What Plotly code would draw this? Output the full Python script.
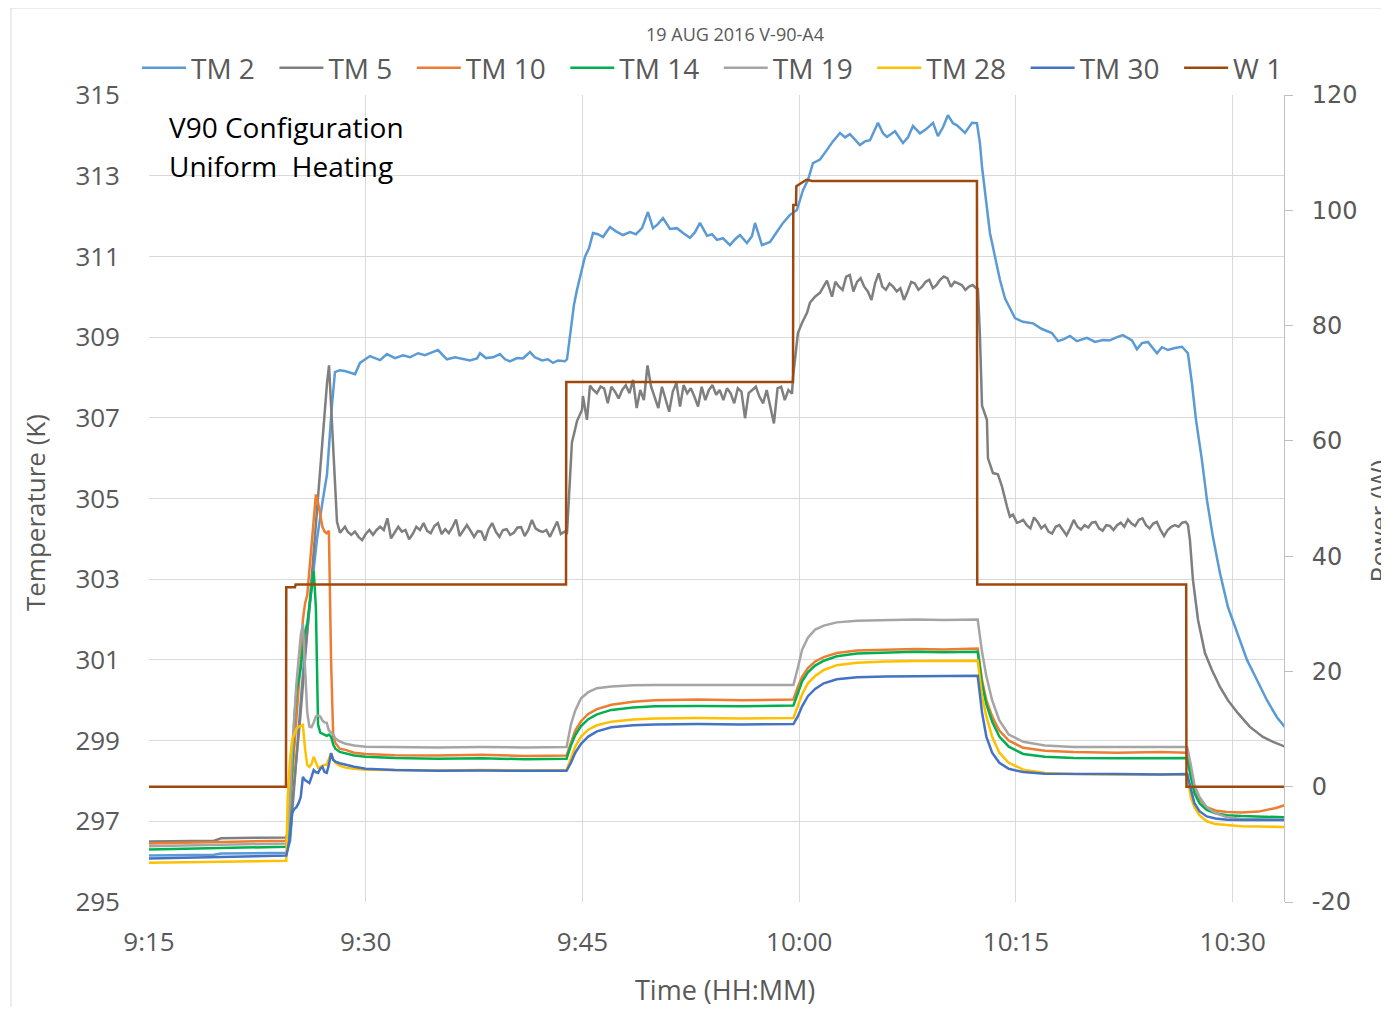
import pandas as pd
import plotly.graph_objects as go

# ---------------- data (minutes after 9:15, values) ----------------
T0 = pd.Timestamp("2016-08-19 09:15:00")
X_END_MIN = 78.55
TICK_MIN = [0, 15, 30, 45, 60, 75]
TICK_LABELS = ["9:15", "9:30", "9:45", "10:00", "10:15", "10:30"]
Y2_TICKS = [-20, 0, 20, 40, 60, 80, 100, 120]
Y2_LABELS = ["-20", "0", "20", "40", "60", "80", "100", "120"]

TM2 = [(0, 296.15), (4.5, 296.17), (5, 296.2), (9.5, 296.22), (9.76, 296.5), (10.1, 298.0), (10.66, 300.7),
       (11.2, 302.6), (11.63, 304.0), (12.0, 304.9), (12.32, 305.6), (12.66, 307.3), (12.87, 308.13),
       (13.2, 308.18), (13.56, 308.16), (14.26, 308.08), (14.6, 308.36), (15.29, 308.53), (15.99, 308.43),
       (16.47, 308.58), (17.02, 308.48), (17.58, 308.55), (18.06, 308.5), (18.62, 308.6), (19.1, 308.55),
       (19.58, 308.62), (20.0, 308.68), (20.35, 308.55), (20.62, 308.45), (21.18, 308.5), (21.73, 308.46),
       (22.21, 308.42), (22.7, 308.47), (22.91, 308.6), (23.32, 308.48), (23.81, 308.5), (24.29, 308.58),
       (24.64, 308.45), (24.98, 308.4), (25.47, 308.48), (25.88, 308.47), (26.37, 308.63), (26.71, 308.5),
       (27.2, 308.42), (27.61, 308.45), (27.96, 308.36), (28.3, 308.42), (28.79, 308.4), (28.93, 308.45),
       (29.13, 309.0), (29.41, 309.8), (29.62, 310.17), (29.9, 310.6), (30.17, 310.99), (30.45, 311.2),
       (30.73, 311.58), (31.07, 311.55), (31.42, 311.48), (31.9, 311.73), (32.32, 311.62), (32.8, 311.53),
       (33.29, 311.6), (33.7, 311.55), (34.12, 311.7), (34.53, 312.1), (34.88, 311.7), (35.22, 311.8),
       (35.57, 311.95), (36.06, 311.68), (36.54, 311.7), (36.96, 311.58), (37.44, 311.46), (37.79, 311.6),
       (38.13, 311.83), (38.62, 311.51), (38.96, 311.55), (39.31, 311.41), (39.72, 311.45), (40.21, 311.28),
       (40.55, 311.42), (40.9, 311.53), (41.38, 311.33), (41.73, 311.5), (41.94, 311.83), (42.42, 311.28),
       (42.98, 311.36), (43.46, 311.61), (43.88, 311.83), (44.36, 312.03), (44.84, 312.15), (45.26, 312.64),
       (45.61, 312.9), (45.95, 313.31), (46.44, 313.4), (46.92, 313.64), (47.33, 313.85), (47.82, 314.06),
       (48.17, 313.95), (48.51, 314.03), (48.86, 313.9), (49.2, 313.76), (49.55, 313.85), (49.9, 313.88),
       (50.45, 314.31), (50.8, 314.05), (51.07, 313.96), (51.63, 314.1), (52.18, 313.81), (52.53, 313.95),
       (52.87, 314.23), (53.36, 314.05), (53.77, 314.15), (54.26, 314.31), (54.6, 313.98), (54.95, 314.2),
       (55.29, 314.5), (55.64, 314.3), (55.92, 314.25), (56.47, 314.06), (56.96, 314.31), (57.3, 314.3),
       (57.51, 313.8), (57.65, 313.22), (58.2, 311.58), (58.89, 310.42), (59.24, 309.96), (59.58, 309.7),
       (59.93, 309.47), (60.48, 309.38), (61.18, 309.34), (61.8, 309.2), (62.49, 309.1), (62.91, 308.9),
       (63.32, 308.95), (63.74, 309.03), (64.22, 308.9), (64.91, 308.98), (65.47, 308.88), (66.02, 308.93),
       (66.5, 308.92), (66.99, 309.0), (67.4, 309.05), (68.03, 308.92), (68.37, 308.7), (68.72, 308.85),
       (69.13, 308.88), (69.76, 308.6), (70.1, 308.75), (70.52, 308.68), (71.0, 308.73), (71.49, 308.76),
       (71.9, 308.6), (72.18, 307.85), (72.46, 306.95), (72.87, 305.95), (73.22, 304.96), (73.63, 304.05),
       (74.12, 303.15), (74.67, 302.31), (75.29, 301.67), (75.99, 301.0), (76.68, 300.5), (77.37, 300.0),
       (78.06, 299.58), (78.62, 299.33)]

# TM5: transition points plus regularly sampled (0.25 min) noisy plateaus
TM5_PRE = [(0, 296.5), (4.5, 296.52), (5, 296.58), (9.5, 296.6), (9.76, 296.9), (10.45, 299.5), (11.14, 302.5),
           (11.63, 304.8), (11.97, 306.45), (12.32, 307.86), (12.46, 308.3), (12.66, 306.9), (12.87, 305.3),
           (13.01, 304.42), (13.22, 304.15), (13.56, 304.3)]
TM5_P1_START = 13.75
TM5_P1 = [304.18, 304.10, 304.18, 304.05, 303.97, 304.12, 304.22, 304.10, 304.22, 304.30, 304.22, 304.51,
          304.01, 304.14, 304.30, 304.18, 304.22, 303.99, 304.12, 304.30, 304.22, 304.39, 304.20, 304.14,
          304.32, 304.39, 304.12, 304.24, 304.14, 304.29, 304.48, 304.07, 304.22, 304.34, 304.20, 304.05,
          304.19, 304.18, 303.96, 304.24, 304.39, 304.18, 304.05, 304.22, 304.24, 304.10, 304.15, 304.28,
          304.29, 304.07, 304.22, 304.47, 304.26, 304.20, 304.17, 304.22, 304.05, 304.24, 304.43, 304.12,
          304.18]
TM5_R1 = [(28.93, 304.15), (29.13, 305.5), (29.27, 306.39), (29.48, 306.7), (29.62, 306.92), (29.97, 307.2),
          (30.03, 307.54), (30.31, 306.95), (30.52, 307.8)]
TM5_P2_START = 30.75
TM5_P2 = [307.69, 307.61, 307.77, 307.73, 307.36, 307.77, 307.65, 307.48, 307.69, 307.81, 307.61, 307.94,
          307.24, 307.69, 307.44, 308.30, 307.77, 307.52, 307.24, 307.77, 307.48, 307.15, 307.65, 307.86,
          307.28, 307.81, 307.61, 307.73, 307.52, 307.28, 307.77, 307.44, 307.69, 307.81, 307.57, 307.69,
          307.44, 307.73, 307.61, 307.36, 307.73, 307.65, 306.99, 307.61, 307.69, 307.77, 307.52, 307.36,
          307.69, 307.28, 306.86, 307.73, 307.77, 307.44, 307.69]
TM5_R2 = [(44.5, 307.6), (44.57, 308.0), (44.91, 309.1), (45.19, 309.35), (45.54, 309.6), (45.74, 309.85),
          (46.09, 310.0), (46.44, 310.1), (46.92, 310.4), (47.27, 310.0)]
TM5_P3_START = 47.5
TM5_P3 = [310.37, 310.25, 310.17, 310.50, 310.54, 310.13, 310.37, 310.46, 310.25, 310.13, 309.92, 310.33,
          310.58, 310.25, 310.17, 310.33, 310.25, 310.13, 310.21, 309.92, 310.13, 310.37, 310.33, 310.17,
          310.25, 310.37, 310.42, 310.21, 310.29, 310.42, 310.50, 310.46, 310.25, 310.37, 310.33, 310.29,
          310.17, 310.25, 310.29, 310.21]
TM5_R3 = [(57.37, 310.2), (57.51, 309.0), (57.65, 307.3), (57.99, 306.95), (58.06, 306.0), (58.41, 305.63),
          (58.75, 305.6), (59.03, 305.3), (59.38, 304.8), (59.58, 304.55), (59.79, 304.6), (60.07, 304.4)]
TM5_P4_START = 60.25
TM5_P4 = [304.42, 304.47, 304.34, 304.26, 304.53, 304.42, 304.26, 304.34, 304.18, 304.13, 304.30, 304.34,
          304.22, 304.09, 304.26, 304.47, 304.30, 304.23, 304.34, 304.28, 304.40, 304.42, 304.26, 304.20,
          304.34, 304.32, 304.22, 304.34, 304.40, 304.30, 304.48, 304.38, 304.32, 304.47, 304.51, 304.34,
          304.26, 304.38, 304.42, 304.22, 304.07, 304.22, 304.30, 304.34, 304.30, 304.40, 304.42]
TM5_R4 = [(71.9, 304.35), (72.04, 303.97), (72.25, 302.98), (72.6, 301.99), (73.08, 301.17), (73.56, 300.75),
          (74.12, 300.33), (74.67, 300.0), (75.36, 299.68), (76.19, 299.34), (77.09, 299.09), (77.79, 298.97),
          (78.62, 298.85)]
SAMPLE_STEP = 0.25

# shared time grid for the lower thermocouple group
LOW_T = [0, 3, 6, 9.5,
         9.6, 9.75, 9.9, 10.05, 10.2, 10.35, 10.5, 10.65, 10.8, 10.95, 11.1, 11.25, 11.4, 11.55, 11.7, 11.85,
         12.0, 12.15, 12.3, 12.45, 12.6, 12.75, 12.9, 13.2, 13.6, 14.2, 15,
         17, 20, 23, 26, 28.9,
         29.2, 29.5, 29.9, 30.4, 31, 32, 33.5, 35,
         38, 41, 44.6,
         44.9, 45.2, 45.6, 46.1, 46.7, 47.6, 49,
         51, 53, 55, 57.35,
         57.65, 57.95, 58.35, 58.85, 59.5, 60.5, 62,
         64, 67, 70, 71.85,
         72.1, 72.35, 72.7, 73.2, 73.8, 74.6, 75.6, 76.8, 78, 78.6]

TM10 = [296.45, 296.47, 296.5, 296.52,
        296.7, 297.3, 298.0, 298.8, 299.5, 300.3, 301.0, 301.99, 302.4, 302.6, 303.2, 304.0, 304.6, 305.1,
        304.9, 304.54, 304.3, 304.18, 304.14, 304.2, 301.0, 299.1, 298.94, 298.8, 298.77, 298.7, 298.67,
        298.64, 298.63, 298.65, 298.62, 298.63,
        298.97, 299.25, 299.48, 299.66, 299.78, 299.89, 299.96, 300.0,
        300.02, 300.0, 300.02,
        300.33, 300.58, 300.8, 300.96, 301.07, 301.17, 301.23,
        301.25, 301.27, 301.26, 301.28,
        300.5, 300.0, 299.6, 299.25, 299.0, 298.82, 298.75,
        298.72, 298.7, 298.72, 298.7,
        298.3, 297.85, 297.55, 297.35, 297.27, 297.23, 297.22, 297.24, 297.33, 297.4]

TM14 = [296.3, 296.32, 296.35, 296.37,
        296.6, 297.4, 298.3, 299.5, 300.2, 300.5, 300.8, 301.3, 301.7, 301.9, 302.3, 302.8, 303.2, 302.3,
        299.4, 299.2, 299.17, 299.14, 299.12, 299.15, 299.1, 298.9, 298.8, 298.72, 298.69, 298.63, 298.6,
        298.57, 298.55, 298.56, 298.54, 298.55,
        298.88, 299.14, 299.36, 299.53, 299.65, 299.76, 299.82, 299.85,
        299.86, 299.85, 299.87,
        300.2, 300.47, 300.69, 300.86, 300.98, 301.09, 301.16,
        301.18, 301.2, 301.19, 301.2,
        300.4, 299.9, 299.47, 299.1, 298.85, 298.67, 298.6,
        298.57, 298.56, 298.57, 298.57,
        298.1, 297.7, 297.45, 297.28, 297.2, 297.15, 297.13, 297.12, 297.11, 297.1]

TM19 = [296.38, 296.4, 296.42, 296.45,
        296.8, 297.5, 298.7, 299.6, 300.4, 301.0, 301.6, 301.9, 300.9, 299.7, 299.35, 299.33, 299.45, 299.6,
        299.62, 299.6, 299.5, 299.45, 299.44, 299.25, 299.2, 299.15, 299.05, 298.98, 298.92, 298.88, 298.85,
        298.84, 298.83, 298.84, 298.83, 298.84,
        299.4, 299.75, 300.05, 300.2, 300.3, 300.34, 300.37, 300.38,
        300.38, 300.37, 300.38,
        300.8, 301.25, 301.55, 301.75, 301.85, 301.93, 301.97,
        301.98, 302.0, 301.99, 302.0,
        301.2, 300.6, 300.0, 299.5, 299.15, 298.97, 298.88,
        298.84, 298.84, 298.85, 298.84,
        298.4, 297.9, 297.6, 297.35, 297.2, 297.1, 297.06, 297.05, 297.04, 297.04]

TM28 = [295.97, 295.99, 296.0, 296.02,
        297.6, 298.5, 299.0, 299.15, 299.3, 299.34, 299.37, 299.39, 298.8, 298.4, 298.35, 298.42, 298.6,
        298.45, 298.33, 298.35, 298.38, 298.4, 298.4, 298.55, 298.69, 298.55, 298.45, 298.38, 298.33, 298.3,
        298.28,
        298.27, 298.26, 298.27, 298.26, 298.27,
        298.55, 298.85, 299.1, 299.27, 299.38, 299.47, 299.52, 299.55,
        299.56, 299.55, 299.56,
        299.85, 300.15, 300.42, 300.6, 300.75, 300.87, 300.93,
        300.96, 300.97, 300.97, 300.98,
        300.1, 299.6, 299.1, 298.7, 298.45, 298.28, 298.2,
        298.17, 298.16, 298.17, 298.16,
        297.6, 297.35, 297.15, 297.0, 296.93, 296.9, 296.88, 296.87, 296.86, 296.86]

TM30 = [296.08, 296.1, 296.12, 296.15,
        296.3, 296.6, 297.2, 297.3, 297.35, 297.45, 297.6, 298.1, 298.02, 297.98, 297.95, 298.1, 298.27,
        298.22, 298.2, 298.3, 298.35, 298.22, 298.2, 298.4, 298.69, 298.52, 298.48, 298.44, 298.4, 298.35,
        298.3,
        298.27, 298.25, 298.26, 298.25, 298.25,
        298.45, 298.7, 298.92, 299.1, 299.23, 299.33, 299.38, 299.4,
        299.41, 299.4, 299.41,
        299.6, 299.85, 300.1, 300.28, 300.42, 300.52, 300.57,
        300.59, 300.6, 300.6, 300.61,
        299.7, 299.1, 298.7, 298.45, 298.3, 298.22, 298.18,
        298.17, 298.17, 298.16, 298.17,
        297.8, 297.45, 297.25, 297.12, 297.07, 297.04, 297.03, 297.03, 297.03, 297.03]

W1 = [(0, 0), (9.48, 0), (9.5, 34.6), (10.1, 34.6), (10.15, 35.1), (28.86, 35.1), (28.88, 70.2), (44.57, 70.2),
      (44.59, 100.9), (44.78, 100.9), (44.8, 104.2), (45.2, 104.9), (45.5, 105.3), (45.9, 105.1), (57.3, 105.1),
      (57.32, 35.1), (71.78, 35.1), (71.8, 0), (78.62, 0)]


# ---------------- helpers ----------------
def to_time(mins):
    return [T0 + pd.Timedelta(minutes=float(m)) for m in mins]


def sampled(start, vals):
    return [(start + i * SAMPLE_STEP, v) for i, v in enumerate(vals)]


tm5_pairs = (TM5_PRE + sampled(TM5_P1_START, TM5_P1) + TM5_R1 + sampled(TM5_P2_START, TM5_P2) + TM5_R2
             + sampled(TM5_P3_START, TM5_P3) + TM5_R3 + sampled(TM5_P4_START, TM5_P4) + TM5_R4)

PAD = "\u00a0\u00a0"
series = [
    ("TM 2", [p[0] for p in TM2], [p[1] for p in TM2], "#5B9BD5"),
    ("TM 5", [p[0] for p in tm5_pairs], [p[1] for p in tm5_pairs], "#7F7F7F"),
    ("TM 10", LOW_T, TM10, "#ED7D31"),
    ("TM 14", LOW_T, TM14, "#00B050"),
    ("TM 19", LOW_T, TM19, "#A5A5A5"),
    ("TM 28", LOW_T, TM28, "#FFC000"),
    ("TM 30", LOW_T, TM30, "#4472C4"),
]

FONT = "Open Sans"
GRAY = "#595959"
GRID = "#D9D9D9"

fig = go.Figure()
for name, mins, vals, col in series:
    fig.add_trace(go.Scatter(x=to_time(mins), y=vals, name=name + PAD, mode="lines",
                             line=dict(color=col, width=2.5)))
fig.add_trace(go.Scatter(x=to_time([p[0] for p in W1]), y=[p[1] for p in W1], name="W 1", mode="lines",
                         line=dict(color="#9E480E", width=2.5), yaxis="y2"))

fig.update_layout(
    width=1373, height=999,
    margin=dict(l=141, r=97, t=87, b=105),
    paper_bgcolor="white", plot_bgcolor="white",
    font=dict(family=FONT, color=GRAY),
    showlegend=True,
    legend=dict(orientation="h", x=-0.0106, xanchor="left", y=1.0335, yanchor="middle",
                font=dict(size=28, color=GRAY, family=FONT), itemwidth=44,
                bgcolor="rgba(0,0,0,0)", tracegroupgap=0),
    xaxis=dict(type="date", range=to_time([0, X_END_MIN]), tickvals=to_time(TICK_MIN), ticktext=TICK_LABELS,
               showgrid=True, gridcolor=GRID, gridwidth=1, zeroline=False, showline=False, ticks="",
               tickfont=dict(size=26, color=GRAY, family=FONT), ticklabelstandoff=22, automargin=False),
    yaxis=dict(range=[295, 315], tick0=295, dtick=2, showgrid=True, gridcolor=GRID, gridwidth=1,
               zeroline=False, showline=False, ticks="", tickfont=dict(size=26, color=GRAY, family=FONT),
               ticklabelstandoff=28, automargin=False),
    yaxis2=dict(range=[-20, 120], tickvals=Y2_TICKS, ticktext=Y2_LABELS, overlaying="y", side="right",
                showgrid=False, zeroline=False, showline=True, linecolor="#BFBFBF", linewidth=1,
                ticks="outside", ticklen=8, tickcolor="#BFBFBF",
                tickfont=dict(size=24, color=GRAY, family="DejaVu Sans"),
                ticklabelstandoff=14, automargin=False),
)

fig.add_annotation(text="19 AUG 2016 V-90-A4", xref="paper", yref="paper", x=0.516, y=1.0756,
                   xanchor="center", yanchor="middle", showarrow=False, font=dict(size=18, color=GRAY))
fig.add_annotation(text="V90 Configuration", xref="paper", yref="paper", x=0.0159, y=0.9603,
                   xanchor="left", yanchor="middle", showarrow=False, font=dict(size=28, color="black"))
fig.add_annotation(text="Uniform  Heating", xref="paper", yref="paper", x=0.0159, y=0.912,
                   xanchor="left", yanchor="middle", showarrow=False, font=dict(size=28, color="black"))
fig.add_annotation(text="Temperature (K)", xref="paper", yref="paper", x=-0.1004, y=0.482, textangle=-90,
                   xanchor="center", yanchor="middle", showarrow=False, font=dict(size=26, color=GRAY))
fig.add_annotation(text="Time (HH:MM)", xref="paper", yref="paper", x=0.5075, y=-0.109,
                   xanchor="center", yanchor="middle", showarrow=False, font=dict(size=27, color=GRAY))
fig.add_annotation(text="Power (W)", xref="paper", yref="paper", x=1.084, y=0.472, textangle=-90,
                   xanchor="center", yanchor="middle", showarrow=False, font=dict(size=26, color=GRAY))
fig.add_shape(type="rect", xref="paper", yref="paper", x0=-0.1216, x1=1.3, y0=-0.3, y1=1.1078,
              line=dict(color=GRID, width=1), fillcolor="rgba(0,0,0,0)", layer="below")

fig.write_html("out.html")
